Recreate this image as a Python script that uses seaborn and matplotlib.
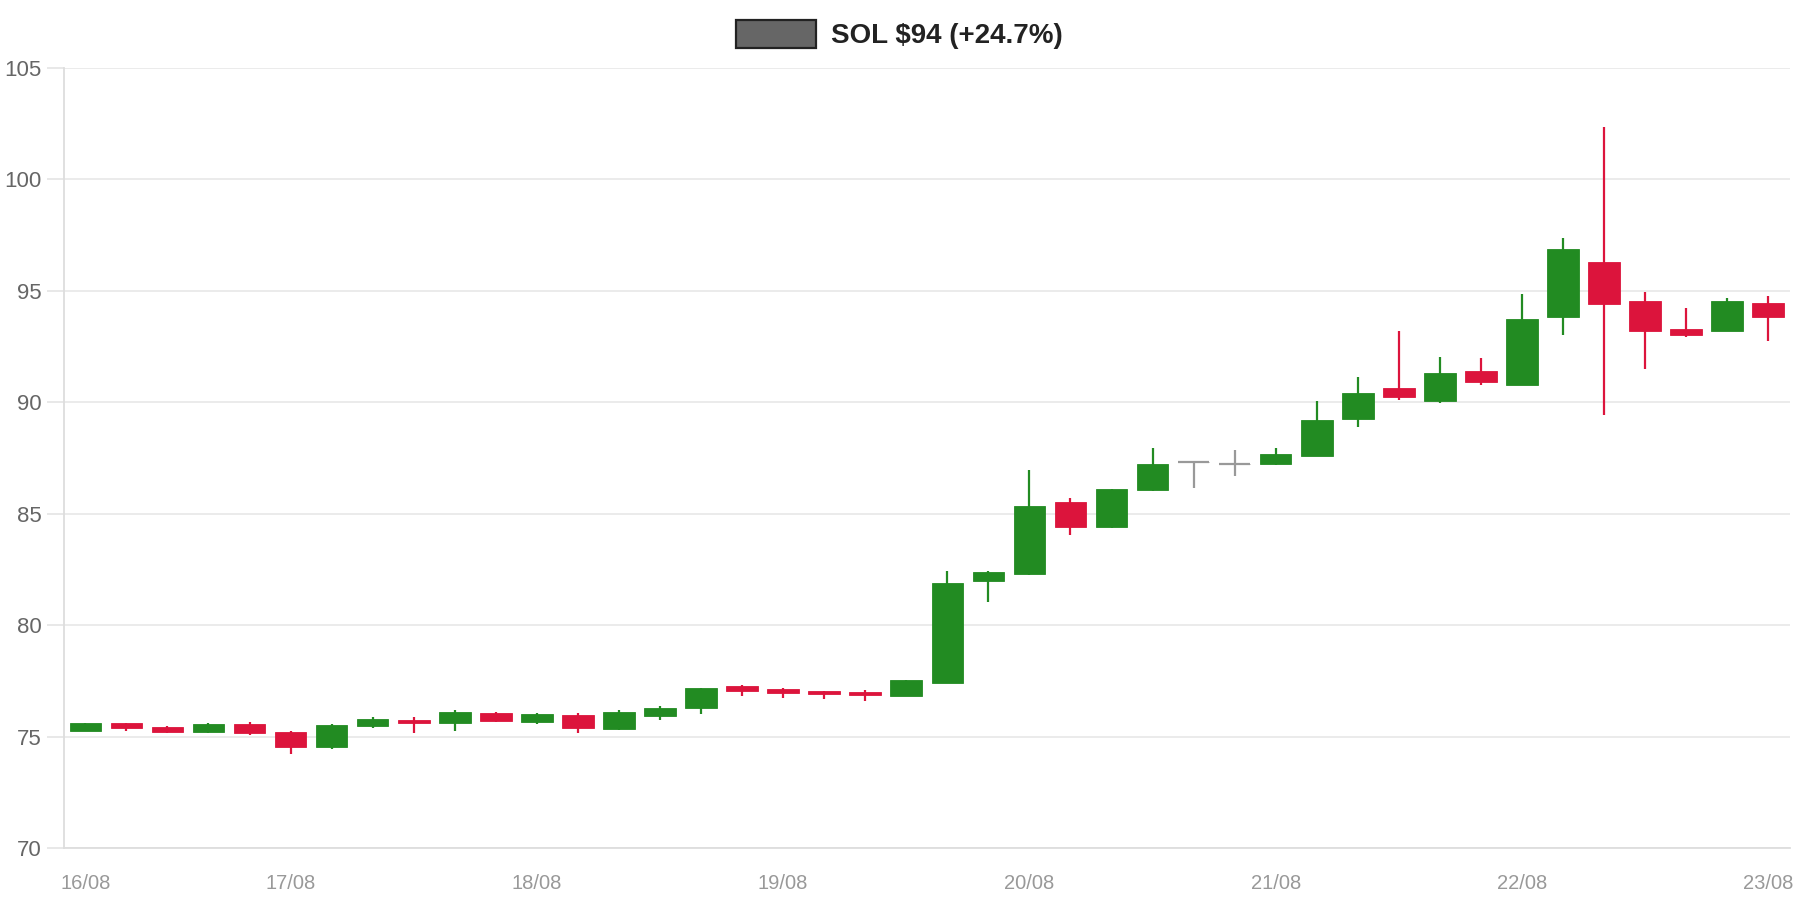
import matplotlib
matplotlib.use("Agg")
import matplotlib.pyplot as plt
from matplotlib.patches import Rectangle
import numpy as np
import pandas as pd
import seaborn as sns

# ---- data (4-hour candles, 16/08 04:00 -> 23/08 00:00) ----
opens = [75.26, 75.61, 75.45, 75.19, 75.58, 75.21, 74.54, 75.48, 75.75, 75.61,
         76.08, 75.66, 75.99, 75.33, 75.94, 76.30, 77.27, 77.14, 77.05, 76.99,
         76.84, 77.41, 81.96, 82.29, 85.54, 84.41, 86.06, 87.34, 87.24, 87.24,
         87.60, 89.25, 90.64, 90.07, 91.41, 90.79, 93.84, 96.30, 94.55, 93.31,
         93.21, 94.45]
closes = [75.60, 75.39, 75.21, 75.58, 75.16, 74.54, 75.54, 75.79, 75.61, 76.09,
          75.69, 76.02, 75.40, 76.09, 76.30, 77.18, 77.06, 76.96, 76.90, 76.87,
          77.53, 81.88, 82.38, 85.36, 84.41, 86.11, 87.24, 87.34, 87.24, 87.70,
          89.20, 90.43, 90.23, 91.31, 90.90, 93.74, 96.86, 94.40, 93.21, 93.00,
          94.55, 93.83]
highs = [75.63, 75.62, 75.46, 75.60, 75.66, 75.25, 75.57, 75.90, 75.87, 76.17,
         76.11, 76.08, 76.05, 76.17, 76.39, 77.20, 77.33, 77.18, 77.06, 77.09,
         77.56, 82.45, 82.42, 86.96, 85.70, 86.13, 87.96, 87.36, 87.86, 87.96,
         90.07, 91.15, 93.21, 92.03, 91.98, 94.88, 97.38, 102.37, 94.96, 94.24,
         94.70, 94.76]
lows = [75.23, 75.25, 75.15, 75.16, 75.06, 74.24, 74.42, 75.37, 75.16, 75.24,
        75.66, 75.58, 75.18, 75.31, 75.75, 76.00, 76.83, 76.75, 76.68, 76.60,
        76.83, 77.39, 81.06, 82.27, 84.05, 84.38, 86.03, 86.16, 86.68, 87.19,
        87.58, 88.89, 90.12, 89.97, 90.79, 90.77, 93.00, 89.45, 91.51, 92.95,
        93.19, 92.75]
tick_positions = [0, 5, 11, 17, 23, 29, 35, 41]
tick_labels = ["16/08", "17/08", "18/08", "19/08", "20/08", "21/08", "22/08", "23/08"]
y_ticks = [70, 75, 80, 85, 90, 95, 100, 105]
legend_label = "SOL $94 (+24.7%)"

UP = "#228B22"
DOWN = "#DC143C"
FLAT = "#999999"

df = pd.DataFrame({"open": opens, "close": closes, "high": highs, "low": lows})
df["x"] = np.arange(len(df))
df["color"] = np.where(df["close"] > df["open"], UP,
                       np.where(df["close"] < df["open"], DOWN, FLAT))

sns.set_theme(style="white")
plt.rcParams["font.family"] = ["Liberation Sans", "DejaVu Sans"]

fig = plt.figure(figsize=(18, 9), dpi=100)
ax = fig.add_axes([64 / 1800, 1 - 848 / 900, (1790 - 64) / 1800, (848 - 68) / 900])

# grid
for yv in y_ticks:
    ax.axhline(yv, color="#e9e9e9", lw=1.3, zorder=0)

# wicks
ax.vlines(df["x"], df["low"], df["high"], colors=df["color"], lw=1.6, zorder=2)

# bodies
bw = 0.77
body_bottom = np.minimum(df["open"], df["close"])
body_h = np.abs(df["close"] - df["open"])
ax.bar(df["x"], body_h, bottom=body_bottom, width=bw, color=df["color"],
       edgecolor=df["color"], linewidth=0.6, zorder=3)
flat = df[df["open"] == df["close"]]
ax.hlines(flat["open"], flat["x"] - bw / 2, flat["x"] + bw / 2, colors=FLAT, lw=1.6, zorder=3)

ax.set_xlim(-0.52, 41.53)
ax.set_ylim(70, 105)
ax.set_yticks(y_ticks)
ax.set_yticklabels([str(v) for v in y_ticks])
ax.set_xticks(tick_positions)
ax.set_xticklabels(tick_labels)

sns.despine(ax=ax, top=True, right=True)
for s in ["left", "bottom"]:
    ax.spines[s].set_color("#dddddd")
    ax.spines[s].set_linewidth(1.3)

ax.tick_params(axis="y", which="major", length=12, width=1.3, color="#e6e6e6",
               labelsize=16, labelcolor="#666666", pad=4, left=True)
ax.tick_params(axis="x", which="major", length=0, labelsize=14.5,
               labelcolor="#999999", pad=19, bottom=True)

# legend (box + bold label) at top centre
fig.patches.append(Rectangle((736 / 1800, 1 - 48 / 900), 80 / 1800, 28.5 / 900,
                             transform=fig.transFigure, facecolor="#666666",
                             edgecolor="#222222", linewidth=1.6))
fig.text(831 / 1800, 1 - 36 / 900, legend_label, ha="left", va="center",
         fontsize=20, fontweight="bold", color="#222222")

fig.savefig("out.png", dpi=100, facecolor="white")
